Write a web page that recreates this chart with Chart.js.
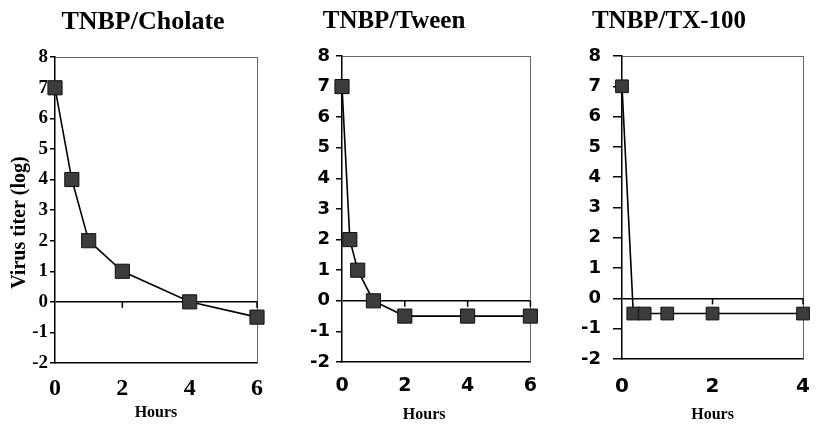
<!DOCTYPE html>
<html>
<head>
<meta charset="utf-8">
<script src="https://cdn.jsdelivr.net/npm/chart.js@4.4.1/dist/chart.umd.min.js"></script>
<style>
  body { margin: 0; background: #fff; }
  #wrap { position: relative; width: 826px; height: 424px; overflow: hidden; background: #fff; }
  canvas { position: absolute; top: 0; }
</style>
</head>
<body>
<div id="wrap">
  <canvas id="cholate" width="286" height="424" style="left:0px"></canvas>
  <canvas id="tween" width="312" height="424" style="left:238px"></canvas>
  <canvas id="tx100" width="314" height="424" style="left:512px"></canvas>
</div>
<script>
  // virus titer (log)
  const cholateHours = [0, 0.5, 1, 2, 4, 6];
  const cholateTiter = [7, 4, 2, 1, 0, -0.5];
  const tweenHours = [0, 0.25, 0.5, 1, 2, 4, 6];
  const tweenTiter = [7, 2, 1, 0, -0.5, -0.5, -0.5];
  const tx100Hours = [0, 0.25, 0.5, 1, 2, 4];
  const tx100Titer = [7, -0.5, -0.5, -0.5, -0.5, -0.5];

  const titerMin = -2, titerMax = 8, titerStep = 1;
  const hourStep = 2;
  const panelTitles = ['TNBP/Cholate', 'TNBP/Tween', 'TNBP/TX-100'];
  const xTitle = 'Hours';
  const yTitle = 'Virus titer (log)';

  Chart.defaults.font.family = 'Liberation Serif';
  Chart.defaults.color = '#000';

  // little tick marks hanging under the zero line
  const zeroTicks = {
    id: 'zeroTicks',
    beforeDatasetsDraw(chart) {
      const { x, y } = chart.scales;
      const y0 = y.getPixelForValue(0);
      const ctx = chart.ctx;
      ctx.save();
      ctx.strokeStyle = '#000';
      ctx.lineWidth = 1.5;
      x.ticks.forEach(t => {
        if (t.value <= 0) return;
        const px = x.getPixelForValue(t.value);
        ctx.beginPath();
        ctx.moveTo(px, y0);
        ctx.lineTo(px, y0 + 6);
        ctx.stroke();
      });
      ctx.restore();
    }
  };

  function makePanel(id, hours, titer, p) {
    const ctx = document.getElementById(id).getContext('2d');
    return new Chart(ctx, {
      type: 'line',
      data: {
        datasets: [{
          data: hours.map((h, i) => ({ x: h, y: titer[i] })),
          borderColor: '#000',
          borderWidth: 1.6,
          tension: 0,
          pointStyle: 'rect',
          pointRadius: p.marker,
          backgroundColor: '#3c3c3c',
          pointBorderColor: '#111',
          pointBorderWidth: 1,
          clip: false,
        }],
      },
      plugins: [zeroTicks],
      options: {
        responsive: false,
        animation: false,
        events: [],
        layout: { padding: 0 },
        plugins: {
          legend: { display: false },
          tooltip: { enabled: false },
          title: {
            display: true,
            text: p.title,
            font: { family: 'Liberation Serif', size: p.titleSize, weight: 'bold' },
            padding: { top: 7, bottom: 19 },
          },
        },
        scales: {
          x: {
            type: 'linear',
            position: 'bottom',
            min: 0,
            max: p.xMax,
            afterFit: s => { s.height = p.xHeight; },
            grid: { display: false, drawTicks: false },
            border: { display: true, color: '#000', width: 1.5 },
            ticks: {
              stepSize: hourStep,
              padding: p.xPad,
              font: { family: p.tickFamily, size: p.xTickSize, weight: 'bold' },
            },
            title: {
              display: true,
              // trailing spaces nudge the label left, as in the original
              text: xTitle + ' '.repeat(p.hoursShift || 0),
              font: { family: 'Liberation Serif', size: 16, weight: 'bold' },
              padding: { top: 0, bottom: p.hoursPad },
            },
          },
          x2: {
            type: 'linear',
            position: 'top',
            display: true,
            min: 0,
            max: p.xMax,
            afterFit: s => { s.height = 0; },
            grid: { display: false, drawTicks: false },
            border: { display: true, color: '#666', width: 1 },
            ticks: { display: false },
          },
          y: {
            min: titerMin,
            max: titerMax,
            afterFit: s => { s.width = p.yWidth; },
            grid: {
              color: c => (c.tick && c.tick.value === 0 ? '#000' : 'rgba(0,0,0,0)'),
              lineWidth: 1.5,
              tickColor: '#000',
              tickLength: p.tickLen,
            },
            border: { display: true, color: '#000', width: 1.5 },
            ticks: {
              stepSize: titerStep,
              padding: p.yPad,
              font: { family: p.tickFamily, size: p.yTickSize, weight: 'bold' },
            },
            title: {
              display: !!p.yTitle,
              // trailing spaces push the rotated label a bit lower
              text: p.yTitle ? p.yTitle + '     ' : '',
              font: { family: 'Liberation Serif', size: 20, weight: 'bold' },
              padding: { top: 8, bottom: 0 },
            },
          },
          y2: {
            position: 'right',
            display: true,
            min: titerMin,
            max: titerMax,
            afterFit: s => { s.width = p.rightGap; },
            grid: { display: false, drawTicks: false },
            border: { display: true, color: '#666', width: 1 },
            ticks: { display: false },
          },
        },
      },
    });
  }

  makePanel('cholate', cholateHours, cholateTiter, {
    title: panelTitles[0], titleSize: 26, xMax: 6,
    yWidth: 55, rightGap: 29, xHeight: 61, xPad: 11, hoursPad: 2,
    tickFamily: 'Liberation Serif', xTickSize: 24, yTickSize: 19,
    tickLen: 5, yPad: 2, marker: 10, yTitle: yTitle,
  });
  makePanel('tween', tweenHours, tweenTiter, {
    title: panelTitles[1], titleSize: 25, xMax: 6,
    yWidth: 104, rightGap: 18, xHeight: 62, xPad: 13, hoursPad: 0,
    tickFamily: 'DejaVu Sans', xTickSize: 19, yTickSize: 18,
    tickLen: 6, yPad: 6, marker: 10, hoursShift: 6,
  });
  makePanel('tx100', tx100Hours, tx100Titer, {
    title: panelTitles[2], titleSize: 25, xMax: 4,
    yWidth: 110, rightGap: 9, xHeight: 65, xPad: 16, hoursPad: 0,
    tickFamily: 'DejaVu Sans', xTickSize: 20, yTickSize: 18,
    tickLen: 9, yPad: 12, marker: 9,
  });
</script>
</body>
</html>
